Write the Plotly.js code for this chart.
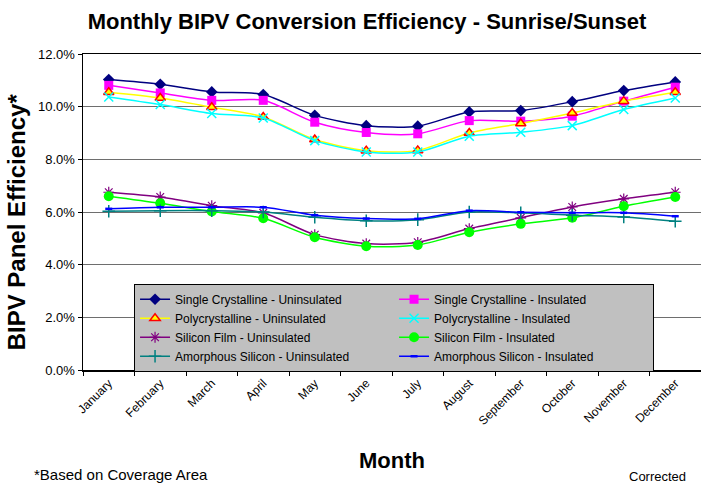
<!DOCTYPE html>
<html>
<head>
<meta charset="utf-8">
<script src="https://cdn.plot.ly/plotly-3.0.1.min.js"></script>
<style>html,body{margin:0;padding:0;background:#fff}#chart{width:701px;height:484px}</style>
</head>
<body>
<div id="chart"></div>
<script>
const months = ["January","February","March","April","May","June","July","August","September","October","November","December"];
const scUninsulated   = [11.03,10.85,10.56,10.46,9.67,9.28,9.26,9.80,9.85,10.19,10.61,10.94];
const scInsulated     = [10.81,10.52,10.24,10.24,9.41,9.02,8.97,9.47,9.45,9.64,10.21,10.74];
const polyUninsulated = [10.55,10.33,9.98,9.61,8.75,8.33,8.34,9.00,9.36,9.76,10.21,10.55];
const polyInsulated   = [10.37,10.08,9.74,9.57,8.71,8.28,8.28,8.88,9.03,9.28,9.89,10.33];
const sfUninsulated   = [6.75,6.57,6.24,5.97,5.14,4.80,4.85,5.37,5.78,6.19,6.50,6.75];
const sfInsulated     = [6.60,6.33,6.02,5.76,5.04,4.70,4.75,5.23,5.55,5.78,6.22,6.57];
const asUninsulated   = [6.03,6.05,6.05,6.00,5.80,5.67,5.71,6.00,5.97,5.88,5.81,5.65];
const asInsulated     = [6.12,6.18,6.18,6.18,5.88,5.75,5.74,6.05,5.99,5.97,5.97,5.84];
const seriesNames = ["Single Crystalline - Uninsulated","Single Crystalline - Insulated","Polycrystalline - Uninsulated","Polycrystalline - Insulated","Silicon Film - Uninsulated","Silicon Film - Insulated","Amorphous Silicon - Uninsulated","Amorphous Silicon - Insulated"];
const yTicks = [0,2,4,6,8,10,12];

const FONT = "Arial, 'Liberation Sans', sans-serif";
const styles = [
  {line:{color:"#000080",width:1.5}, marker:{symbol:"diamond",size:9,color:"#000080"}},
  {line:{color:"#FF00FF",width:1.5}, marker:{symbol:"square",size:9,color:"#FF00FF"}},
  {line:{color:"#FFFF00",width:1.5}, marker:{symbol:"triangle-up",size:9,color:"#FFFF00",line:{color:"#FF0000",width:1.5}}},
  {line:{color:"#00FFFF",width:1.5}, marker:{symbol:"x-thin-open",size:9,color:"#00FFFF",line:{color:"#00FFFF",width:1.5}}},
  {line:{color:"#800080",width:1.5}, marker:{symbol:"asterisk-open",size:9,color:"#800080",line:{color:"#800080",width:1.2}}},
  {line:{color:"#00FF00",width:1.5}, marker:{symbol:"circle",size:10,color:"#00FF00"}},
  {line:{color:"#008080",width:1.5}, marker:{symbol:"cross-thin-open",size:9,color:"#008080",line:{color:"#008080",width:1.5}}},
  {line:{color:"#0000FF",width:1.5}, marker:{symbol:"line-ew-open",size:5,color:"#0000FF",line:{color:"#0000FF",width:2.5}}}
];
const allValues = [scUninsulated,scInsulated,polyUninsulated,polyInsulated,sfUninsulated,sfInsulated,asUninsulated,asInsulated];
const traces = allValues.map((vals,i)=>({
  type:"scatter", mode:"lines+markers", name:seriesNames[i], x:months, y:vals,
  line:Object.assign({shape:"spline",smoothing:0.8}, styles[i].line),
  marker:styles[i].marker
}));

const layout = {
  width:701, height:484,
  margin:{l:83,r:0,t:54,b:114},
  paper_bgcolor:"#FFFFFF", plot_bgcolor:"#FFFFFF",
  font:{family:FONT,color:"#000000",size:12},
  showlegend:true,
  title:{text:"<b>Monthly BIPV Conversion Efficiency - Sunrise/Sunset</b>", font:{family:FONT,size:22,color:"#000"}, x:0.5235, xref:"container", xanchor:"center", y:0.957, yref:"container", yanchor:"middle"},
  xaxis:{type:"category", range:[-0.5,11.5], tickangle:-45, tickson:"boundaries", ticks:"outside", ticklen:4, tickcolor:"#000",
    showline:true, linecolor:"#000", linewidth:1.5, mirror:true, showgrid:false, zeroline:false,
    tickfont:{family:FONT,size:12,color:"#000"},
    title:{text:"<b>Month</b>", font:{family:FONT,size:22,color:"#000"}, standoff:26}},
  yaxis:{range:[0,12], tickvals:yTicks, ticktext:yTicks.map(v=>v.toFixed(1)+"%"), ticks:"outside", ticklen:4, tickcolor:"#000",
    showline:true, linecolor:"#000", linewidth:1.5, showgrid:true, gridcolor:"#6e6e6e", gridwidth:1, zeroline:false,
    tickfont:{family:FONT,size:13,color:"#000"}},
  legend:{orientation:"h", x:0.0826, xanchor:"left", y:0.273, yanchor:"top", bgcolor:"#C0C0C0", bordercolor:"#000", borderwidth:1,
    font:{family:FONT,size:12,color:"#000"}, entrywidth:214, entrywidthmode:"pixels", traceorder:"normal"},
  annotations:[
    {text:"<b>BIPV Panel Efficiency*</b>", xref:"paper", yref:"paper", x:-0.107, y:0.47, xanchor:"center", yanchor:"middle", textangle:-90, showarrow:false, font:{family:FONT,size:24,color:"#000"}},
    {text:"*Based on Coverage Area", xref:"paper", yref:"paper", x:-0.0826, y:-0.3310, xanchor:"left", yanchor:"middle", showarrow:false, font:{family:FONT,size:15,color:"#000"}},
    {text:"Corrected", xref:"paper", yref:"paper", x:0.979, y:-0.337, xanchor:"right", yanchor:"middle", showarrow:false, font:{family:FONT,size:13,color:"#000"}}
  ]
};
Plotly.newPlot("chart", traces, layout, {staticPlot:true, displayModeBar:false});
</script>
</body>
</html>
